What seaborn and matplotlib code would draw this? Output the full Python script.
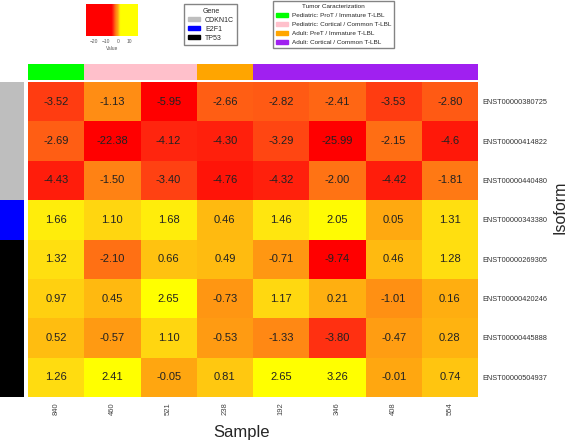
import numpy as np
import matplotlib
matplotlib.use("Agg")
import matplotlib.pyplot as plt
import seaborn as sns
from matplotlib.colors import LinearSegmentedColormap, ListedColormap, Normalize
from matplotlib.patches import Patch

# data
samples = ["840", "460", "521", "238", "192", "346", "408", "554"]
isoforms = ["ENST00000380725", "ENST00000414822", "ENST00000440480", "ENST00000343380",
            "ENST00000269305", "ENST00000420246", "ENST00000445888", "ENST00000504937"]
cell_text = [
    ["-3.52", "-1.13", "-5.95", "-2.66", "-2.82", "-2.41", "-3.53", "-2.80"],
    ["-2.69", "-22.38", "-4.12", "-4.30", "-3.29", "-25.99", "-2.15", "-4.6"],
    ["-4.43", "-1.50", "-3.40", "-4.76", "-4.32", "-2.00", "-4.42", "-1.81"],
    ["1.66", "1.10", "1.68", "0.46", "1.46", "2.05", "0.05", "1.31"],
    ["1.32", "-2.10", "0.66", "0.49", "-0.71", "-9.74", "0.46", "1.28"],
    ["0.97", "0.45", "2.65", "-0.73", "1.17", "0.21", "-1.01", "0.16"],
    ["0.52", "-0.57", "1.10", "-0.53", "-1.33", "-3.80", "-0.47", "0.28"],
    ["1.26", "2.41", "-0.05", "0.81", "2.65", "3.26", "-0.01", "0.74"],
]
genes = ["CDKN1C", "E2F1", "TP53"]
gene_colors = ["#BEBEBE", "#0000FF", "#000000"]
row_gene = [0, 0, 0, 1, 2, 2, 2, 2]
groups = ["Pediatric: ProT / Immature T-LBL", "Pediatric: Cortical / Common T-LBL",
          "Adult: PreT / Immature T-LBL", "Adult: Cortical / Common T-LBL"]
group_colors = ["#00FF00", "#FFC0CB", "#FFA500", "#A020F0"]
col_group = [0, 1, 1, 2, 3, 3, 3, 3]
cbar_ticks = [-20, -10, 0, 10]

values = np.array([[float(v) for v in row] for row in cell_text])
labels = np.array(cell_text)

sns.set_style("white")
plt.rcParams["font.family"] = ["Liberation Sans", "DejaVu Sans"]

heat = LinearSegmentedColormap.from_list("heat", [
    (0.00, "#FF0000"), (0.20, "#FF2A10"), (0.35, "#FF5A14"), (0.55, "#FF8A14"),
    (0.72, "#FFA810"), (0.82, "#FFC810"), (0.90, "#FFE410"), (1.00, "#FFFF00")])
norm = Normalize(vmin=-5.5, vmax=2.2)

fig = plt.figure(figsize=(5.67, 4.4), dpi=100)
W, H = 567, 440

def box(x0, y0, x1, y1):
    return [x0 / W, 1 - y1 / H, (x1 - x0) / W, (y1 - y0) / H]

ax = fig.add_axes(box(28, 82, 478, 397))
sns.heatmap(values, ax=ax, cmap=heat, norm=norm, cbar=False, annot=labels, fmt="",
            annot_kws={"fontsize": 8, "color": "#222222"})
ax.set_xticks(np.arange(len(samples)) + 0.5)
ax.set_xticklabels(samples, rotation=90, fontsize=5.5, color="#444444")
ax.set_yticks(np.arange(len(isoforms)) + 0.5)
ax.set_yticklabels(isoforms, rotation=0, fontsize=5.3, color="#333333")
ax.yaxis.tick_right()
ax.tick_params(length=0, pad=4)
ax.tick_params(axis="y", pad=3)
fig.text(242 / W, 1 - 432 / H, "Sample", fontsize=12, ha="center", va="center")
fig.text(560 / W, 1 - 207 / H, "Isoform", fontsize=11.5, rotation=90, ha="center", va="center")

# column annotation
ax_top = fig.add_axes(box(28, 64, 478, 80))
sns.heatmap(np.array([col_group]), ax=ax_top, cmap=ListedColormap(group_colors),
            vmin=-0.5, vmax=3.5, cbar=False, xticklabels=False, yticklabels=False)

# row annotation
ax_left = fig.add_axes(box(0, 82, 24, 397))
sns.heatmap(np.array([row_gene]).T, ax=ax_left, cmap=ListedColormap(gene_colors),
            vmin=-0.5, vmax=2.5, cbar=False, xticklabels=False, yticklabels=False)

# colour key
ax_cb = fig.add_axes(box(86, 4, 138, 36))
grad = np.linspace(-27, 17, 200)
ax_cb.imshow(grad[None, :], aspect="auto", cmap=heat, norm=norm, extent=[-27, 17, 0, 1])
ax_cb.set_yticks([])
ax_cb.set_xticks(cbar_ticks)
ax_cb.tick_params(axis="x", labelsize=3.5, length=1.5, pad=1, colors="#555555")
ax_cb.set_xlabel("Value", fontsize=3.5, labelpad=1, color="#555555")
for s in ax_cb.spines.values():
    s.set_visible(False)

# legends
common = dict(frameon=True, fancybox=False, edgecolor="#666666", handlelength=1.8,
              handleheight=0.55, borderpad=0.45, handletextpad=0.7, loc="upper left")
fig.legend(handles=[Patch(color=c, label=g) for g, c in zip(genes, gene_colors)],
           title="Gene", bbox_to_anchor=(181 / W, 1 - 1 / H), labelspacing=0.3,
           fontsize=5, title_fontsize=5, **common)
fig.legend(handles=[Patch(color=c, label=g) for g, c in zip(groups, group_colors)],
           title="Tumor Caracterization", bbox_to_anchor=(270 / W, 1 + 2 / H),
           labelspacing=0.6, fontsize=4.6, title_fontsize=4.6, **common)

fig.savefig("out.png", dpi=100)
